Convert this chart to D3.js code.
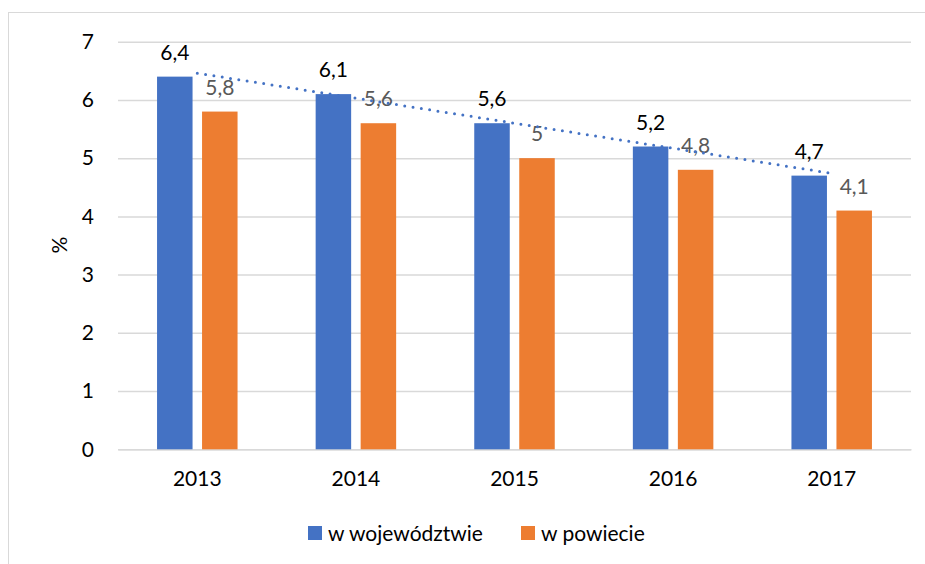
<!DOCTYPE html>
<html><head><meta charset="utf-8">
<script src="https://cdn.jsdelivr.net/npm/d3@7"></script>
<style>body{margin:0;background:#fff}svg{display:block;font-family:Lato,"Open Sans",sans-serif}</style>
</head><body>
<svg id="c" width="925" height="564"></svg>
<script>
const categories = ["2013","2014","2015","2016","2017"];
const seriesNames = ["w województwie","w powiecie"];
const wojewodztwo = [6.4,6.1,5.6,5.2,4.7];
const powiat = [5.8,5.6,5.0,4.8,4.1];
const yTicks = [0,1,2,3,4,5,6,7];
const colors = ["#4472C4","#ED7D31"];
const FS = "21px";

const svg = d3.select("#c");
svg.append("rect").attr("x",8.5).attr("y",12.5).attr("width",930).attr("height",560)
  .attr("fill","#fff").attr("stroke","#D9D9D9").attr("stroke-width",1);

const L=118, R=911, T=41.7, B=449.3;
const x = d3.scaleBand().domain(categories).range([L,R]);
const y = d3.scaleLinear().domain([0,7]).range([B,T]);
const fmt = v => String(v).replace(".",",");

// gridlines
const yAxis = d3.axisLeft(y).tickValues(yTicks).tickSize(-(R-L)).tickFormat(d3.format("d"));
const gy = svg.append("g").attr("transform",`translate(${L},0)`).call(yAxis);
gy.select(".domain").remove();
gy.selectAll(".tick line").attr("stroke","#D9D9D9").attr("stroke-width",1.5);
gy.selectAll(".tick text").attr("x",-24).attr("fill","#000").style("font-size",FS).style("font-family","Lato");

const xAxis = d3.axisBottom(x).tickSize(0);
const gx = svg.append("g").attr("transform",`translate(0,${B})`).call(xAxis);
gx.select(".domain").attr("stroke","#D9D9D9").attr("stroke-width",1.5);
gx.selectAll(".tick text").attr("y",22).attr("fill","#000").style("font-size",FS).style("font-family","Lato");

svg.append("text").attr("transform",`translate(67,245) rotate(-90)`).attr("text-anchor","middle")
  .style("font-size",FS).attr("fill","#000").text("%");

const barW = 35.5, gap = 9.5;
const data = [wojewodztwo, powiat];
data.forEach((vals,si)=>{
  const g = svg.append("g");
  const offset = si===0 ? -(barW+gap/2) : gap/2;
  g.selectAll("rect").data(vals).join("rect")
    .attr("x",(d,i)=>x(categories[i])+x.bandwidth()/2+offset)
    .attr("width",barW)
    .attr("y",d=>y(d)).attr("height",d=>B-y(d))
    .attr("fill",colors[si]);
  g.selectAll("text").data(vals).join("text")
    .attr("x",(d,i)=>x(categories[i])+x.bandwidth()/2+offset+barW/2)
    .attr("y",d=>y(d)-17)
    .attr("text-anchor","middle")
    .attr("fill", si===0 ? "#000" : "#595959")
    .style("font-size",FS)
    .text(d=>fmt(d));
});

// linear trendline for first series
const n = wojewodztwo.length;
const xs = d3.range(1,n+1);
const mx = d3.mean(xs), my = d3.mean(wojewodztwo);
const slope = d3.sum(xs.map((xi,i)=>(xi-mx)*(wojewodztwo[i]-my))) / d3.sum(xs.map(xi=>(xi-mx)**2));
const icpt = my - slope*mx;
const trend = xs.map((xi,i)=>[x(categories[i])+x.bandwidth()/2, y(icpt+slope*xi)]);
svg.append("path").attr("d",d3.line()([trend[0],trend[n-1]]))
  .attr("fill","none").attr("stroke","#4472C4").attr("stroke-width",3)
  .attr("stroke-linecap","round").attr("stroke-dasharray","0 8.4");

// legend
const leg = [{x:308,t:seriesNames[0],c:colors[0]},{x:521,t:seriesNames[1],c:colors[1]}];
leg.forEach(l=>{
  svg.append("rect").attr("x",l.x).attr("y",526).attr("width",14).attr("height",14).attr("fill",l.c);
  svg.append("text").attr("x",l.x+20).attr("y",540.5).style("font-size",FS).attr("fill","#000").text(l.t);
});
</script>
</body></html>
